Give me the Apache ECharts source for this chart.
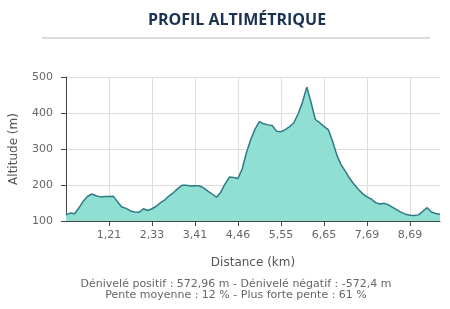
<!DOCTYPE html>
<html><head><meta charset="utf-8">
<script src="https://cdn.jsdelivr.net/npm/echarts@6/dist/echarts.min.js"></script>
<style>html,body{margin:0;padding:0;background:#fff}#c{width:450px;height:309px}</style>
</head><body><div id="c"></div>
<script>
var distances = [0.00,0.12,0.24,0.36,0.48,0.61,0.73,0.85,0.97,1.09,1.21,
1.32,1.43,1.55,1.66,1.77,1.88,1.99,2.10,2.22,2.33,
2.44,2.55,2.65,2.76,2.87,2.98,3.09,3.19,3.30,3.41,
3.52,3.62,3.73,3.83,3.94,4.04,4.15,4.25,4.36,4.46,
4.57,4.68,4.79,4.90,5.01,5.12,5.22,5.33,5.44,5.55,
5.66,5.77,5.88,5.99,6.10,6.21,6.32,6.43,6.54,6.65,
6.75,6.86,6.96,7.07,7.17,7.27,7.38,7.48,7.59,7.69,
7.79,7.89,7.99,8.09,8.19,8.29,8.39,8.49,8.59,8.69,
8.79,8.89,8.99,9.09,9.19,9.29,9.39];
var altitudes = [117,122,120,136,155,168,175,170,167,168,168,
169,153,139,135,128,125,124,134,129,134,
141,151,159,170,179,190,199,199,197,198,
198,192,183,175,166,180,203,222,221,218,
245,291,327,356,376,370,367,365,349,348,
354,362,373,398,429,472,430,382,373,363,
354,322,283,256,238,218,202,188,176,167,
161,151,147,149,145,138,131,124,119,116,
115,117,127,137,125,121,119];
var yTicks = [100,200,300,400,500];
var titleText = 'PROFIL ALTIMÉTRIQUE';
var xTitle = 'Distance (km)';
var yTitle = 'Altitude (m)';
var footer1 = 'Dénivelé positif : 572,96 m - Dénivelé négatif : -572,4 m';
var footer2 = 'Pente moyenne : 12 % - Plus forte pente : 61 %';
var labelStep = 10;

var cats = distances.map(function(d){return d.toFixed(2).replace('.',',');});
var showIdx = function(i){return i>0 && i%labelStep===0;};
var font = 'DejaVu Sans, Verdana, sans-serif';
var chart = echarts.init(document.getElementById('c'), null, {renderer:'canvas'});
chart.setOption({
  animation:false,
  title:{text:titleText,left:232,textAlign:'center',top:7,
    textStyle:{fontFamily:'Open Sans',fontWeight:'bold',fontSize:16,color:'#1a3152'}},
  graphic:[
    {type:'line',shape:{x1:42,y1:38,x2:430,y2:38},style:{stroke:'#cfcfcf',lineWidth:1.5}},
    {type:'text',x:236,y:279,style:{text:footer1,font:'11px '+font,fill:'#666',align:'center'}},
    {type:'text',x:236,y:290,style:{text:footer2,font:'11px '+font,fill:'#666',align:'center'}}
  ],
  grid:{left:64,right:10,top:77,bottom:88},
  xAxis:{type:'category',data:cats,boundaryGap:false,
    name:xTitle,nameLocation:'middle',nameGap:36,
    nameTextStyle:{fontFamily:font,fontSize:12,color:'#555',padding:[0,0,0,0]},
    axisLine:{lineStyle:{color:'#444',width:1}},
    axisTick:{show:true,interval:function(i){return showIdx(i);},length:5,lineStyle:{color:'#444'}},
    axisLabel:{interval:function(i){return showIdx(i);},fontFamily:font,fontSize:11,color:'#666',margin:9},
    splitLine:{show:true,interval:function(i){return showIdx(i);},lineStyle:{color:'#ddd'}}
  },
  yAxis:{type:'value',min:yTicks[0],max:yTicks[yTicks.length-1],interval:100,
    name:yTitle,nameLocation:'middle',nameGap:46,
    nameTextStyle:{fontFamily:font,fontSize:12,color:'#555'},
    axisLine:{show:true,lineStyle:{color:'#444',width:1}},
    axisTick:{show:true,length:5,lineStyle:{color:'#444'}},
    axisLabel:{fontFamily:font,fontSize:11,color:'#666',margin:13},
    splitLine:{show:true,lineStyle:{color:'#ddd'}}
  },
  series:[{type:'line',data:altitudes,symbol:'none',smooth:false,
    lineStyle:{color:'#2f7a86',width:1.5},
    areaStyle:{color:'#8fdfd2',opacity:1}}]
});
</script></body></html>
